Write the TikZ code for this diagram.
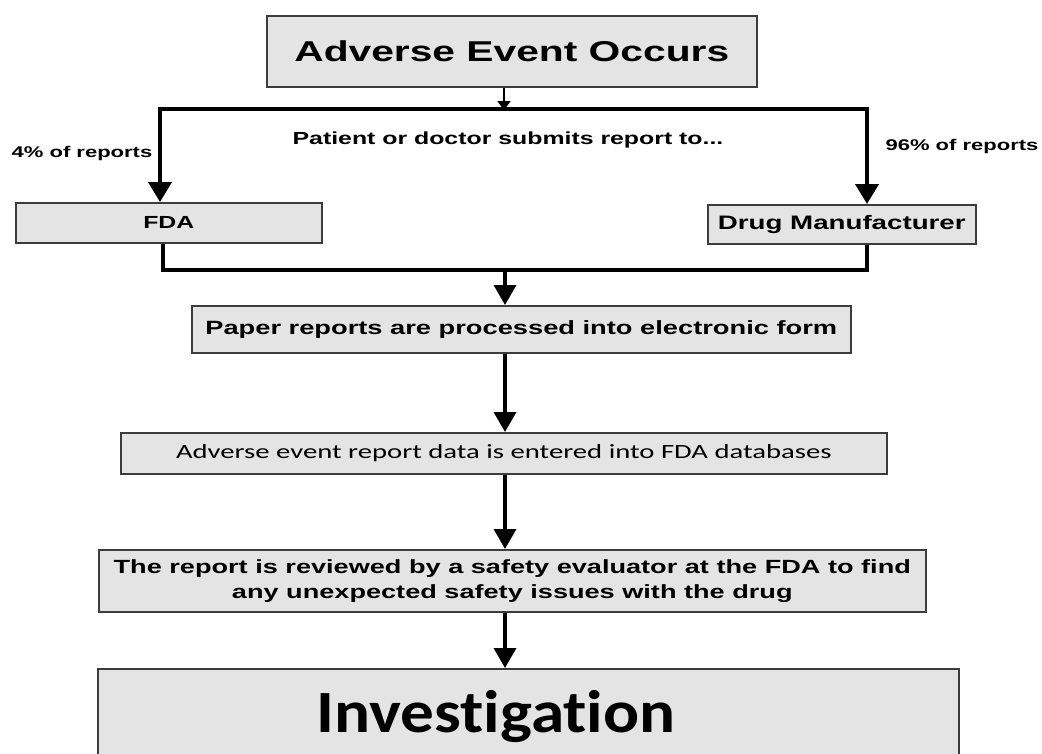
\documentclass[tikz,border=0pt]{standalone}
\usepackage{fontspec}
\setmainfont{Liberation Sans}
\newfontfamily\wideA{Liberation Sans}[FakeStretch=1.42]
\newfontfamily\wideC{Carlito}[FakeStretch=1.42,Ligatures=NoCommon]
\newfontfamily\invC{Carlito}[FakeStretch=1.12,Ligatures=NoCommon]
\usetikzlibrary{arrows.meta}
\definecolor{boxfill}{HTML}{E4E4E4}
\definecolor{boxline}{HTML}{3C3C3C}
\begin{document}
\begin{tikzpicture}[x=1pt,y=-1pt,
  box/.style={draw=boxline,line width=1.6pt,fill=boxfill,inner sep=0pt,anchor=north west,text=black},
  conn/.style={line width=4pt,line join=miter},
  arr/.style={line width=3.5pt,-{Triangle[length=20pt,width=22pt]}},
  lbl/.style={font=\wideA\bfseries\fontsize{15.5}{18}\selectfont}
]
\useasboundingbox (0,0) rectangle (1042,753);
\clip (0,0) rectangle (1042,753);
\fill[white] (0,0) rectangle (1042,753);

% boxes
\node[box,minimum width=490pt,minimum height=71pt,font=\wideA\bfseries\fontsize{28.7}{34}\selectfont] (top) at (266,15) {Adverse Event Occurs};
\node[box,minimum width=306pt,minimum height=40pt,font=\wideA\bfseries\fontsize{17.5}{20}\selectfont] (fda) at (15,202) {FDA};
\node[box,minimum width=268pt,minimum height=39pt,font=\wideA\bfseries\fontsize{19.5}{23}\selectfont] (drug) at (707,204) {Drug Manufacturer};
\node[box,minimum width=659pt,minimum height=47pt,font=\wideA\bfseries\fontsize{19.2}{23}\selectfont] (paper) at (191,305) {Paper reports are processed into electronic form};
\node[box,minimum width=766pt,minimum height=41pt,font=\wideC\fontsize{20.2}{24}\selectfont] (data) at (120,432) {Adverse event report data is entered into FDA databases};
\node[box,minimum width=827pt,minimum height=62pt,align=center,font=\wideA\bfseries\fontsize{19.1}{25}\selectfont] (review) at (98,549) {The report is reviewed by a safety evaluator at the FDA to find\\any unexpected safety issues with the drug};
\node[box,minimum width=861pt,minimum height=100pt] (inv) at (97,668) {};
\node[font=\invC\bfseries\fontsize{60}{70}\selectfont] (invtext) at (496,717) {Investigation};

% labels
\node[lbl] (l4) at (82,153) {4\% of reports};
\node[lbl] (l96) at (962,146) {96\% of reports};
\node[font=\wideA\bfseries\fontsize{17.5}{21}\selectfont] (lpat) at (508,140) {Patient or doctor submits report to...};

% connectors
\coordinate (split) at (504,109);
\coordinate (hl) at (160,109);
\coordinate (hr) at (867,109);
\draw[line width=2.5pt,-{Triangle[length=9pt,width=13pt]}] (top.south -| split) -- ([yshift=-1pt]split);
\draw[conn,-{Triangle[length=20pt,width=23pt]}] (split) -| (hl |- fda.north);
\draw[conn,-{Triangle[length=20pt,width=23pt]}] (split) -| (hr |- drug.north);

\coordinate (jl) at (163,270);
\coordinate (jr) at (867,270);
\coordinate (jm) at (505,270);
\draw[conn] (jl |- fda.south) -- (jl) -- (jr) -- (jr |- drug.south);
\draw[arr] (jm) -- (jm |- paper.north);
\draw[arr] (paper.south -| jm) -- (data.north -| jm);
\draw[arr] (data.south -| jm) -- (review.north -| jm);
\draw[arr] (review.south -| jm) -- (inv.north -| jm);
\end{tikzpicture}
\end{document}
